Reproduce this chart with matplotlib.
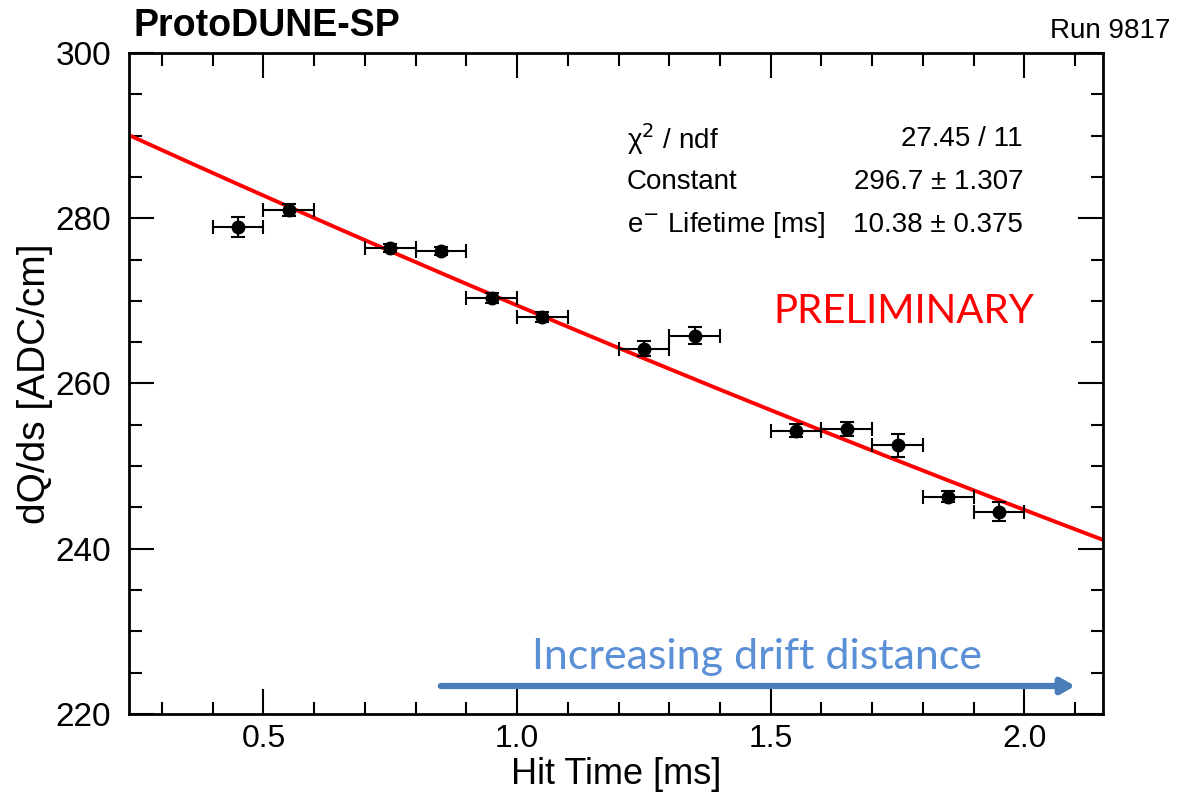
import numpy as np
import matplotlib
matplotlib.use("Agg")
import matplotlib.pyplot as plt
from matplotlib.ticker import MultipleLocator

hit_time = [0.45, 0.55, 0.75, 0.85, 0.95, 1.05, 1.25, 1.35, 1.55, 1.65, 1.75, 1.85, 1.95]
time_err = [0.05] * 13
dqds = [278.9, 281.0, 276.4, 276.0, 270.3, 268.1, 264.2, 265.8, 254.3, 254.5, 252.5, 246.3, 244.5]
dqds_err = [1.2, 0.7, 0.5, 0.5, 0.6, 0.6, 0.9, 1.0, 0.8, 0.8, 1.35, 0.7, 1.1]

# fit parameters shown in the stats box
const = 296.7
lifetime = 10.38

plt.rcParams['font.family'] = ['Liberation Sans', 'DejaVu Sans']

fig = plt.figure(figsize=(11.79, 7.99), dpi=100)
ax = fig.add_axes([129/1179, 1 - 714/799, (1103-129)/1179, (714-53)/799])

t = np.linspace(0.235, 2.155, 200)
ax.plot(t, const*np.exp(-t/lifetime), color='red', lw=2.8, zorder=2)

ax.errorbar(hit_time, dqds, xerr=time_err, yerr=dqds_err, fmt='o', color='black',
            ms=9, elinewidth=1.5, capsize=5, capthick=1.5, zorder=3)

ax.set_xlim(0.235, 2.155)
ax.set_ylim(220, 300)
ax.xaxis.set_major_locator(MultipleLocator(0.5))
ax.xaxis.set_minor_locator(MultipleLocator(0.1))
ax.yaxis.set_major_locator(MultipleLocator(20))
ax.yaxis.set_minor_locator(MultipleLocator(5))
ax.xaxis.set_major_formatter(matplotlib.ticker.FormatStrFormatter('%.1f'))
ax.tick_params(which='both', direction='in', top=True, right=True, width=1.5, labelsize=24)
ax.tick_params(which='major', length=18)
ax.tick_params(which='minor', length=9)
ax.tick_params(axis='x', pad=7, labelsize=23)
ax.tick_params(axis='y', pad=13)
for s in ax.spines.values():
    s.set_linewidth(2)

ax.set_xlabel('Hit Time [ms]', fontsize=26)
ax.xaxis.set_label_coords(0.5, (714 - 774) / 661)
ax.xaxis.label.set_va('center')
ax.set_ylabel('dQ/ds [ADC/cm]', fontsize=28, labelpad=2)

fig.text(133/1179, 1 - 26/799, 'ProtoDUNE-SP', fontsize=27, fontweight='bold', va='center')
fig.text(1170/1179, 1 - 31/799, 'Run 9817', fontsize=20, ha='right', va='center')

# stats box
stats = [(r'χ$^{2}$ / ndf', '27.45 / 11'),
         ('Constant', '296.7 ± 1.307'),
         (r'e$^{-}$ Lifetime [ms]', '10.38 ± 0.375')]
for i, (lab, val) in enumerate(stats):
    y = 1 - (139 + 43*i)/799
    fig.text(627/1179, y, lab, fontsize=20, va='center')
    fig.text(1023/1179, y, val, fontsize=20, va='center', ha='right')

fig.text(904/1179, 1 - 312/799, 'PRELIMINARY', fontsize=29, color='red',
         ha='center', va='center', family='Lato')
fig.text(757/1179, 1 - 657/799, 'Increasing drift distance', fontsize=31,
         color='#5B8FD6', ha='center', va='center', family='Lato')
ax.annotate('', xy=(1078/1179, 1 - 686/799), xytext=(438/1179, 1 - 686/799),
            xycoords='figure fraction',
            arrowprops=dict(arrowstyle='-|>,head_length=0.8,head_width=0.45',
                            color='#4A7EBB', lw=4.5))

fig.savefig('out.png', dpi=100)
